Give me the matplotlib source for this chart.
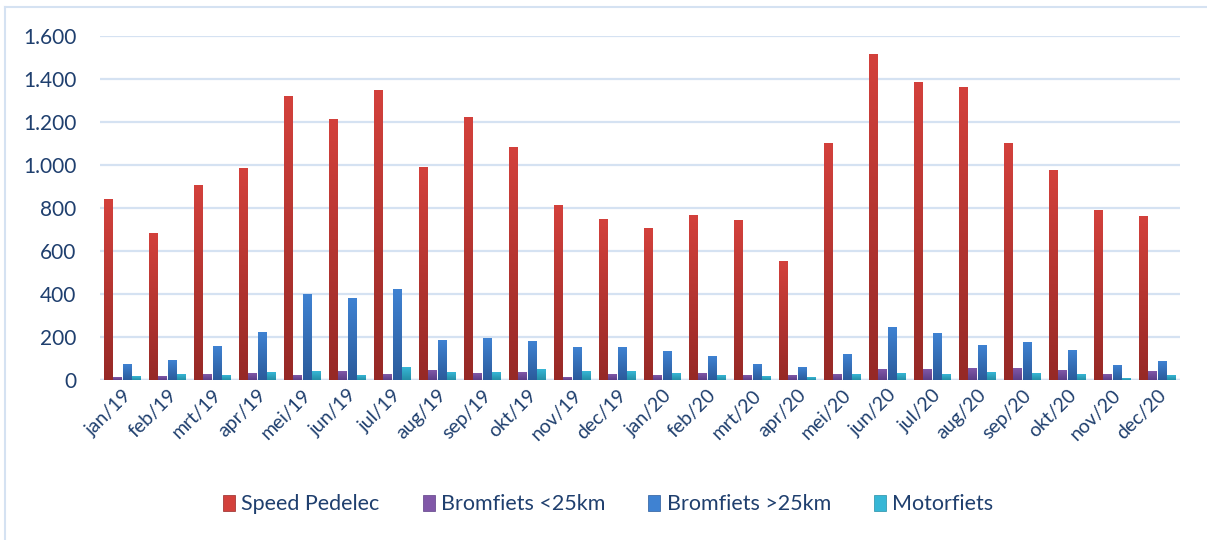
import numpy as np
import matplotlib.pyplot as plt
from matplotlib.patches import Patch
from matplotlib.colors import LinearSegmentedColormap
from matplotlib.ticker import FuncFormatter

plt.rcParams['font.family'] = ['Lato', 'DejaVu Sans']

# maanden
months = ['jan/19', 'feb/19', 'mrt/19', 'apr/19', 'mei/19', 'jun/19', 'jul/19', 'aug/19',
          'sep/19', 'okt/19', 'nov/19', 'dec/19', 'jan/20', 'feb/20', 'mrt/20', 'apr/20',
          'mei/20', 'jun/20', 'jul/20', 'aug/20', 'sep/20', 'okt/20', 'nov/20', 'dec/20']

speed_pedelec = [840, 681, 905, 984, 1319, 1212, 1347, 988, 1221, 1081, 812, 747,
                 705, 765, 742, 552, 1100, 1514, 1384, 1360, 1100, 974, 788, 760]
brom_lt25 = [12, 17, 26, 31, 22, 40, 26, 45, 31, 36, 12, 26,
             22, 31, 22, 22, 26, 50, 50, 54, 54, 45, 26, 40]
brom_gt25 = [73, 91, 157, 222, 398, 380, 422, 184, 194, 180, 152, 152,
             133, 110, 73, 59, 119, 245, 217, 161, 175, 138, 68, 87]
motorfiets = [17, 26, 22, 36, 40, 22, 59, 36, 36, 50, 40, 40,
              31, 22, 17, 12, 26, 31, 26, 36, 31, 26, 8, 22]

series = [
    ('Speed Pedelec', speed_pedelec, '#D3413C', '#962926'),
    ('Bromfiets <25km', brom_lt25, '#8158A8', '#5C3E86'),
    ('Bromfiets >25km', brom_gt25, '#3F82D2', '#2B5B9B'),
    ('Motorfiets', motorfiets, '#37B7D6', '#258EA6'),
]

text_color = '#1F3F6E'

fig = plt.figure(figsize=(12.07, 5.4), dpi=100)
ax = fig.add_axes([0.0829, 0.2972, 0.8947, 0.637])

x = np.arange(len(months))
width = 0.2
step = 0.213
grad = np.linspace(1, 0, 256).reshape(-1, 1)

for i, (name, vals, top, bottom) in enumerate(series):
    cmap = LinearSegmentedColormap.from_list(name, [bottom, top])
    offs = (i - 1.5) * step
    bars = ax.bar(x + offs, vals, width, color=top, zorder=2)
    # verloop in elke staaf
    for b in bars:
        bx, by = b.get_x(), b.get_y()
        bw, bh = b.get_width(), b.get_height()
        b.set_facecolor('none')
        im = ax.imshow(grad, cmap=cmap, aspect='auto', zorder=2.5,
                       extent=[bx, bx + bw, by, by + bh], interpolation='bicubic')
        im.set_clip_path(b)

ax.set_xlim(-0.5, len(months) - 0.5)
ax.set_ylim(0, 1600)
ax.set_yticks(np.arange(0, 1601, 200))
ax.yaxis.set_major_formatter(FuncFormatter(lambda v, p: f'{int(v):,}'.replace(',', '.')))
ax.grid(axis='y', color='#D5E2F2', linewidth=1.6, zorder=0)
ax.axhline(0, color='#D5E2F2', linewidth=2.5, zorder=1)
for s in ax.spines.values():
    s.set_visible(False)

ax.set_xticks(x)
ax.set_xticklabels(months, rotation=45, ha='right', rotation_mode='anchor',
                   fontsize=14, color=text_color)
ax.tick_params(axis='both', length=0)
ax.tick_params(axis='y', labelsize=15, labelcolor=text_color, pad=17)
ax.tick_params(axis='x', pad=5)

handles = [Patch(facecolor=s[2], edgecolor=s[3], linewidth=0.5) for s in series]
fig.legend(handles, [s[0] for s in series], loc='center', ncol=4,
           bbox_to_anchor=(0.504, 0.066), frameon=False, fontsize=15.5,
           labelcolor=text_color, handlelength=0.55, handleheight=0.75,
           handletextpad=0.3, columnspacing=2.0)

# lichte rand om de grafiek
fig.add_artist(plt.Line2D([5 / 1207, 5 / 1207], [0, 1 - 7 / 540],
                          transform=fig.transFigure, color='#D5E2F2', linewidth=1.5))
fig.add_artist(plt.Line2D([5 / 1207, 1], [1 - 7 / 540, 1 - 7 / 540],
                          transform=fig.transFigure, color='#D5E2F2', linewidth=1.5))

fig.savefig('out.png', dpi=100)
